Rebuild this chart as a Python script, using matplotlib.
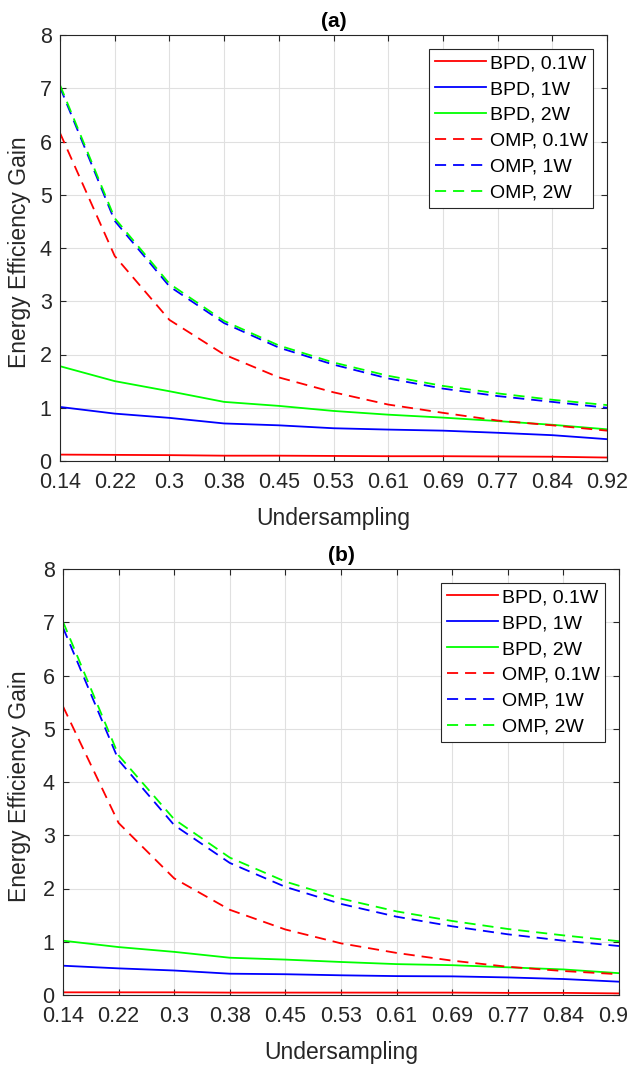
import matplotlib
matplotlib.use("Agg")
import matplotlib.pyplot as plt

plt.rcParams['font.family'] = ['Liberation Sans', 'DejaVu Sans']
plt.rcParams['lines.scale_dashes'] = False

undersampling = ['0.14', '0.22', '0.3', '0.38', '0.45', '0.53', '0.61', '0.69', '0.77', '0.84', '0.92']

# Panel (a)
a_bpd_01 = [0.12, 0.115, 0.11, 0.10, 0.10, 0.095, 0.09, 0.09, 0.085, 0.08, 0.065]
a_bpd_1 = [1.015, 0.89, 0.81, 0.705, 0.67, 0.615, 0.59, 0.57, 0.53, 0.485, 0.41]
a_bpd_2 = [1.78, 1.50, 1.31, 1.11, 1.035, 0.94, 0.87, 0.815, 0.75, 0.68, 0.595]
a_omp_01 = [6.16, 3.85, 2.65, 2.0, 1.57, 1.29, 1.06, 0.905, 0.76, 0.67, 0.57]
a_omp_1 = [7.02, 4.51, 3.28, 2.59, 2.13, 1.81, 1.55, 1.36, 1.22, 1.11, 1.0]
a_omp_2 = [7.06, 4.56, 3.33, 2.63, 2.17, 1.85, 1.60, 1.41, 1.27, 1.15, 1.05]

# Panel (b)
b_bpd_01 = [0.05, 0.05, 0.05, 0.045, 0.045, 0.045, 0.045, 0.045, 0.04, 0.04, 0.03]
b_bpd_1 = [0.55, 0.50, 0.46, 0.40, 0.39, 0.37, 0.355, 0.35, 0.33, 0.30, 0.25]
b_bpd_2 = [1.02, 0.90, 0.81, 0.70, 0.665, 0.62, 0.58, 0.56, 0.52, 0.48, 0.41]
b_omp_01 = [5.42, 3.23, 2.19, 1.60, 1.23, 0.97, 0.79, 0.645, 0.53, 0.45, 0.39]
b_omp_1 = [6.90, 4.41, 3.19, 2.48, 2.03, 1.71, 1.47, 1.29, 1.14, 1.02, 0.92]
b_omp_2 = [7.01, 4.50, 3.30, 2.58, 2.13, 1.81, 1.57, 1.39, 1.24, 1.12, 1.01]

labels = ['BPD, 0.1W', 'BPD, 1W', 'BPD, 2W', 'OMP, 0.1W', 'OMP, 1W', 'OMP, 2W']
colors = ['#ff0000', '#0000ff', '#00ff00', '#ff0000', '#0000ff', '#00ff00']

W, H = 629, 1069
fig = plt.figure(figsize=(W / 100, H / 100), dpi=100)

txt = '#262626'

def panel(rect, series, title):
    ax = fig.add_axes(rect)
    x = list(range(len(undersampling)))
    for i, (ys, lab, c) in enumerate(zip(series, labels, colors)):
        if i < 3:
            ax.plot(x, ys, color=c, lw=1.3, label=lab)
        else:
            ax.plot(x, ys, color=c, lw=1.3, label=lab, dashes=(8, 5))
    ax.set_xlim(0, len(undersampling) - 1)
    ax.set_ylim(0, 8)
    ax.set_xticks(x)
    ax.set_xticklabels(undersampling)
    ax.set_yticks(range(0, 9))
    ax.grid(True, color='#e0e0e0', lw=0.8)
    ax.set_axisbelow(True)
    ax.tick_params(direction='in', length=4.5, width=0.8, top=True, right=True,
                   labelsize=15.5, colors=txt)
    ax.tick_params(axis='x', pad=8)
    ax.tick_params(axis='y', pad=6)
    for s in ax.spines.values():
        s.set_color(txt)
        s.set_linewidth(0.8)
    ax.set_xlabel('Undersampling', fontsize=16.5, color=txt, va='center')
    ax.set_ylabel('Energy Efficiency Gain', fontsize=16.5, color=txt, va='center')
    pos_w = rect[2] * W
    pos_h = rect[3] * H
    ax.xaxis.set_label_coords(0.5, -57 / pos_h)
    ax.yaxis.set_label_coords(-(rect[0] * W - 20) / pos_w, 0.49)
    ax.set_title(title, fontsize=15, fontweight='bold', color='black', pad=6)
    leg = ax.legend(loc='upper right', fontsize=14, frameon=True, fancybox=False,
                    edgecolor=txt, framealpha=1, handlelength=2.6, handletextpad=0.2,
                    labelspacing=0.43, borderpad=0.3, borderaxespad=0.7)
    leg.get_frame().set_linewidth(0.8)
    return ax

panel([60 / W, 1 - 461 / H, 547 / W, 426 / H],
      [a_bpd_01, a_bpd_1, a_bpd_2, a_omp_01, a_omp_1, a_omp_2], '(a)')
panel([63 / W, 1 - 995 / H, 556 / W, 426 / H],
      [b_bpd_01, b_bpd_1, b_bpd_2, b_omp_01, b_omp_1, b_omp_2], '(b)')

fig.savefig('out.png', dpi=100)
